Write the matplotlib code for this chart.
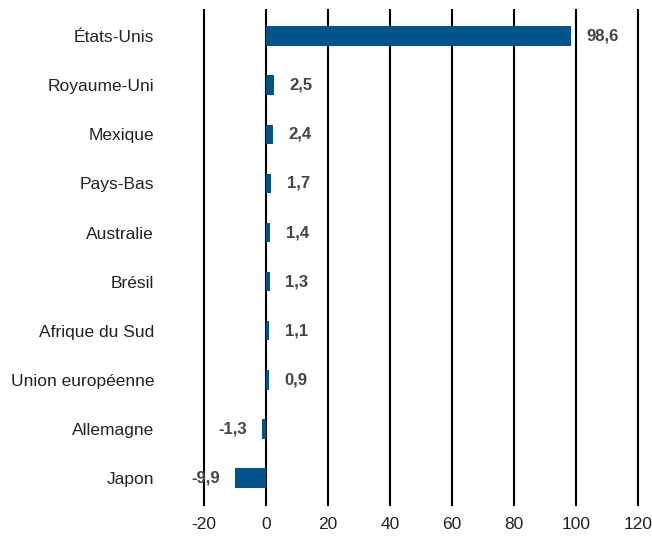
import matplotlib.pyplot as plt
from matplotlib import font_manager

pays = ["États-Unis", "Royaume-Uni", "Mexique", "Pays-Bas", "Australie",
        "Brésil", "Afrique du Sud", "Union européenne", "Allemagne", "Japon"]
valeurs = [98.6, 2.5, 2.4, 1.7, 1.4, 1.3, 1.1, 0.9, -1.3, -9.9]
graduations = [-20, 0, 20, 40, 60, 80, 100, 120]

noms = {f.name for f in font_manager.fontManager.ttflist}
police = "Liberation Sans Narrow" if "Liberation Sans Narrow" in noms else "Liberation Sans"
plt.rcParams['font.family'] = [police, 'DejaVu Sans']

fig = plt.figure(figsize=(6.52, 5.36), dpi=100)
ax = fig.add_axes([0.313, 0.058, 0.665, 0.923])

y = list(range(len(pays)))
ax.barh(y, valeurs, height=0.4, color="#00548A", zorder=3)

for yi, v in zip(y, valeurs):
    txt = f"{v:.1f}".replace(".", ",")
    if v >= 0:
        ax.annotate(txt, (v, yi), xytext=(11, 0), textcoords="offset points",
                    ha="left", va="center", fontsize=12, fontweight="bold", color="#444444")
    else:
        ax.annotate(txt, (v, yi), xytext=(-11, 0), textcoords="offset points",
                    ha="right", va="center", fontsize=12, fontweight="bold", color="#444444")

ax.set_xlim(-20, 120)
ax.set_ylim(len(pays) - 0.45, -0.53)
ax.set_xticks(graduations)
ax.set_xticklabels([str(g) for g in graduations])
ax.set_yticks(y)
ax.set_yticklabels(pays)
ax.tick_params(axis="both", length=0, labelsize=12.5, colors="#222222")
ax.tick_params(axis="y", pad=36)
ax.tick_params(axis="x", pad=9)

for g in graduations:
    ax.axvline(g, color="black", lw=1.5, zorder=2, clip_on=False)
for s in ax.spines.values():
    s.set_visible(False)

fig.savefig("out.png", dpi=100)
